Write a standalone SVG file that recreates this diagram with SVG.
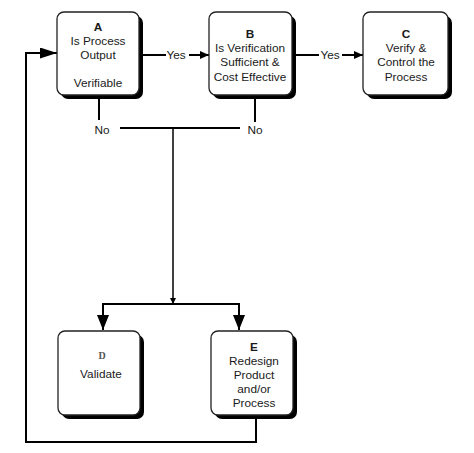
<svg xmlns="http://www.w3.org/2000/svg" width="474" height="453" viewBox="0 0 474 453">
<style>
.box{fill:#fff;stroke:#222;stroke-width:1.3}
.sh{fill:#000}
.t{font-family:"Liberation Sans",Arial,sans-serif;font-size:11.8px;fill:#1a1a1a;text-anchor:middle}
.b{font-weight:bold}
.ln{fill:none;stroke:#000;stroke-width:2}
.th{fill:none;stroke:#000;stroke-width:1.5}
</style>
<defs>
<marker id="ah" viewBox="0 0 10 10" refX="10" refY="5" markerWidth="9" markerHeight="8" markerUnits="userSpaceOnUse" orient="auto" preserveAspectRatio="none">
<path d="M0,0 L10,5 L0,10 Z" fill="#000"/>
</marker>
<marker id="big" viewBox="0 0 10 10" refX="10" refY="5" markerWidth="17" markerHeight="11" markerUnits="userSpaceOnUse" orient="auto" preserveAspectRatio="none">
<path d="M0,0 L10,5 L0,10 Z" fill="#000"/>
</marker>
<marker id="dn" viewBox="0 0 10 10" refX="10" refY="5" markerWidth="15" markerHeight="12" markerUnits="userSpaceOnUse" orient="auto" preserveAspectRatio="none">
<path d="M0,0 L10,5 L0,10 Z" fill="#000"/>
</marker>
<marker id="sm" viewBox="0 0 10 10" refX="10" refY="5" markerWidth="6" markerHeight="6" markerUnits="userSpaceOnUse" orient="auto" preserveAspectRatio="none">
<path d="M0,0 L10,5 L0,10 Z" fill="#000"/>
</marker>
</defs>

<g id="connectors">
<line class="ln" x1="143" y1="55" x2="166" y2="55"/>
<text class="t" x="176" y="59">Yes</text>
<line class="ln" x1="189" y1="55" x2="209" y2="55" marker-end="url(#ah)"/>
<line class="ln" x1="296" y1="55" x2="319" y2="55"/>
<text class="t" x="330" y="59">Yes</text>
<line class="ln" x1="342" y1="55" x2="363" y2="55" marker-end="url(#ah)"/>
<line class="ln" x1="99" y1="98" x2="99" y2="120"/>
<text class="t" x="102" y="134">No</text>
<line class="ln" x1="255" y1="98" x2="255" y2="122"/>
<text class="t" x="255" y="134">No</text>
<line class="ln" x1="120" y1="128" x2="240" y2="128"/>
<line class="th" x1="173" y1="128" x2="173" y2="304" marker-end="url(#sm)"/>
<line class="ln" x1="102" y1="304" x2="240" y2="304"/>
<line class="ln" x1="103" y1="304" x2="103" y2="330" marker-end="url(#dn)"/>
<line class="ln" x1="239" y1="304" x2="239" y2="330" marker-end="url(#dn)"/>
<polyline class="ln" points="256,419 256,442 26,442 26,53 57,53" marker-end="url(#big)"/>
</g>

<g id="nodeA">
<rect class="sh" x="61" y="16" width="82" height="83" rx="7"/>
<rect class="box" x="57" y="12" width="82" height="83" rx="7"/>
<text class="t b" x="98" y="31">A</text>
<text class="t" x="98" y="45">Is Process</text>
<text class="t" x="98" y="59">Output</text>
<text class="t" x="98" y="87">Verifiable</text>
</g>

<g id="nodeB">
<rect class="sh" x="213" y="16" width="83" height="83" rx="7"/>
<rect class="box" x="209" y="12" width="83" height="83" rx="7"/>
<text class="t b" x="250" y="38">B</text>
<text class="t" x="250" y="52">Is Verification</text>
<text class="t" x="250" y="66">Sufficient &amp;</text>
<text class="t" x="250" y="81">Cost Effective</text>
</g>

<g id="nodeC">
<rect class="sh" x="367" y="16" width="85" height="83" rx="7"/>
<rect class="box" x="363" y="12" width="85" height="83" rx="7"/>
<text class="t b" x="406" y="38">C</text>
<text class="t" x="406" y="52">Verify &amp;</text>
<text class="t" x="406" y="66">Control the</text>
<text class="t" x="406" y="81">Process</text>
</g>

<g id="nodeD">
<rect class="sh" x="62" y="335" width="82" height="84" rx="7"/>
<rect class="box" x="58" y="331" width="82" height="84" rx="7"/>
<text x="102" y="359" style="font-family:'Liberation Serif',serif;font-size:10px;font-weight:bold;fill:#555;text-anchor:middle">D</text>
<text class="t" x="101" y="378">Validate</text>
</g>

<g id="nodeE">
<rect class="sh" x="215" y="335" width="82" height="84" rx="7"/>
<rect class="box" x="211" y="331" width="82" height="84" rx="7"/>
<text class="t b" x="254" y="351">E</text>
<text class="t" x="254" y="365">Redesign</text>
<text class="t" x="254" y="379">Product</text>
<text class="t" x="254" y="393">and/or</text>
<text class="t" x="254" y="407">Process</text>
</g>
</svg>
